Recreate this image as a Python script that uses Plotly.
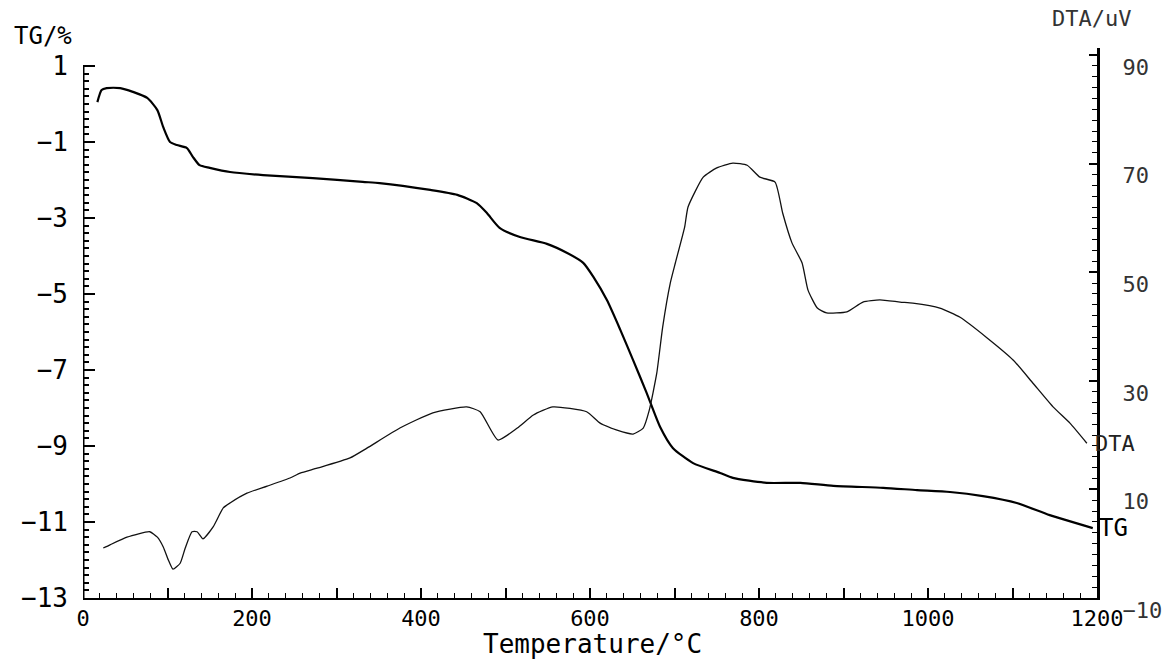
import numpy as np
import plotly.graph_objects as go

# ---- data ----
tg_temp = [17, 22, 28, 44, 59, 76, 88, 95, 103, 111, 123, 130, 138, 150, 174, 213, 272, 331,
           351, 411, 443, 466, 478, 493, 517, 549, 573, 592, 604, 620, 636, 651, 667, 683, 698,
           722, 754, 769, 809, 849, 888, 947, 987, 1026, 1065, 1105, 1144, 1195]
tg_val = [0.05, 0.37, 0.42, 0.42, 0.32, 0.16, -0.16, -0.61, -1.0, -1.08, -1.16, -1.39, -1.61,
          -1.68, -1.79, -1.87, -1.95, -2.05, -2.08, -2.26, -2.39, -2.61, -2.87, -3.26, -3.5,
          -3.68, -3.92, -4.18, -4.55, -5.16, -5.95, -6.74, -7.6, -8.5, -9.05, -9.45, -9.71,
          -9.84, -9.97, -9.97, -10.05, -10.1, -10.16, -10.21, -10.32, -10.5, -10.82, -11.16]

dta_temp = [24, 32, 52, 79, 88, 95, 101, 106.5, 115, 121, 129, 135, 142, 154, 166, 174, 194,
            218, 245, 257, 277, 316, 336, 375, 414, 454, 470, 491, 514, 533, 556, 596, 612,
            632, 651, 663, 670, 679, 686, 695, 701, 712, 716, 734, 750, 769, 786, 801, 819,
            828, 839, 851, 858, 869, 880, 904, 923, 943, 967, 982, 1014, 1038, 1070, 1101,
            1124, 1148, 1168, 1188]
dta_val = [-0.8, -0.2, 1.2, 2.2, 1.2, -0.6, -3.0, -4.7, -3.6, -0.8, 2.2, 2.2, 0.9, 3.1, 6.6,
           7.5, 9.3, 10.6, 12.1, 13.0, 13.9, 15.8, 17.6, 21.3, 24.1, 25.2, 24.3, 19.1, 21.3,
           23.7, 25.2, 24.3, 22.2, 20.9, 20.2, 21.3, 24.5, 31.4, 39.9, 48.0, 51.7, 58.3, 62.0,
           67.5, 69.2, 70.1, 69.7, 67.5, 66.6, 60.9, 55.4, 51.7, 46.7, 43.4, 42.5, 42.7, 44.5,
           44.9, 44.5, 44.3, 43.4, 41.7, 37.9, 33.8, 29.6, 25.2, 22.2, 18.5]

x_ticks = [0, 100, 200, 300, 400, 500, 600, 700, 800, 900, 1000, 1100, 1200]
x_ticklabels = ["0", "", "200", "", "400", "", "600", "", "800", "", "1000", "", "1200"]
tg_ticks = [1, -1, -3, -5, -7, -9, -11, -13]
dta_ticks = [-10, 10, 30, 50, 70, 90]

FONT = "DejaVu Sans Mono"

fig = go.Figure()
fig.add_trace(go.Scatter(x=tg_temp, y=tg_val, mode="lines", name="TG",
                         line=dict(color="black", width=2.2, shape="spline", smoothing=0.6),
                         yaxis="y"))
fig.add_trace(go.Scatter(x=dta_temp, y=dta_val, mode="lines", name="DTA",
                         line=dict(color="#111", width=1.3, shape="spline", smoothing=0.5),
                         yaxis="y2"))

fig.update_layout(
    width=1166, height=660,
    margin=dict(l=83, r=69, t=48, b=62, autoexpand=False),
    paper_bgcolor="white", plot_bgcolor="white",
    showlegend=False,
    xaxis=dict(range=[0, 1200], showgrid=False, zeroline=False, automargin=False,
               showline=True, linecolor="black", linewidth=2,
               tickmode="array", tickvals=x_ticks, ticktext=x_ticklabels,
               ticks="inside", ticklen=10, tickwidth=1.5, tickcolor="black",
               minor=dict(dtick=20, tick0=0, ticks="inside", ticklen=5, tickwidth=1.2,
                          tickcolor="black"),
               tickfont=dict(family=FONT, size=22, color="black"),
               ticklabelstandoff=0),
    yaxis=dict(range=[-13, 1.474], showgrid=False, zeroline=False, showline=False,
               automargin=False,
               tickmode="array", tickvals=tg_ticks,
               ticks="inside", ticklen=12, tickwidth=2, tickcolor="black",
               minor=dict(tickmode="array",
                          tickvals=list(np.round(np.arange(-13, 1.01, 0.2), 2)),
                          ticks="inside", ticklen=6, tickwidth=1.5, tickcolor="black"),
               tickfont=dict(family=FONT, size=26, color="black"),
               ticklabelstandoff=14),
    yaxis2=dict(range=[-10, 91.29], overlaying="y", side="right", anchor="x",
                showgrid=False, zeroline=False, automargin=False,
                showline=True, linecolor="black", linewidth=3,
                tickmode="array", tickvals=dta_ticks,
                ticks="inside", ticklen=8, tickwidth=1.5, tickcolor="black",
                minor=dict(dtick=2, tick0=0, ticks="inside", ticklen=5, tickwidth=1.2,
                           tickcolor="black"),
                tickfont=dict(family=FONT, size=22, color="#333"),
                ticklabelstandoff=18, ticklabelshift=12),
)

# left axis line only spans the TG range
fig.add_shape(type="line", xref="x", yref="y", x0=0, x1=0, y0=-13, y1=1,
              line=dict(color="black", width=3))

annots = [
    dict(text="TG/%", x=-0.07, y=1.0218, xanchor="left", yanchor="middle",
         font=dict(family=FONT, size=24, color="black")),
    dict(text="DTA/uV", x=0.9536, y=1.0545, xanchor="left", yanchor="middle",
         font=dict(family=FONT, size=22, color="#333")),
    dict(text="DTA", x=0.996, y=0.2818, xanchor="left", yanchor="middle",
         font=dict(family=FONT, size=22, color="#222")),
    dict(text="TG", x=1.0, y=0.127, xanchor="left", yanchor="middle",
         font=dict(family=FONT, size=24, color="black")),
    dict(text="Temperature/°C", x=0.502, y=-0.083, xanchor="center", yanchor="middle",
         font=dict(family=FONT, size=26, color="black")),
]
for a in annots:
    fig.add_annotation(xref="paper", yref="paper", showarrow=False, **a)

fig.write_html("out.html", config={"displayModeBar": False},
               post_script="document.body.style.margin='0';"
                           "document.body.style.overflow='hidden';")
